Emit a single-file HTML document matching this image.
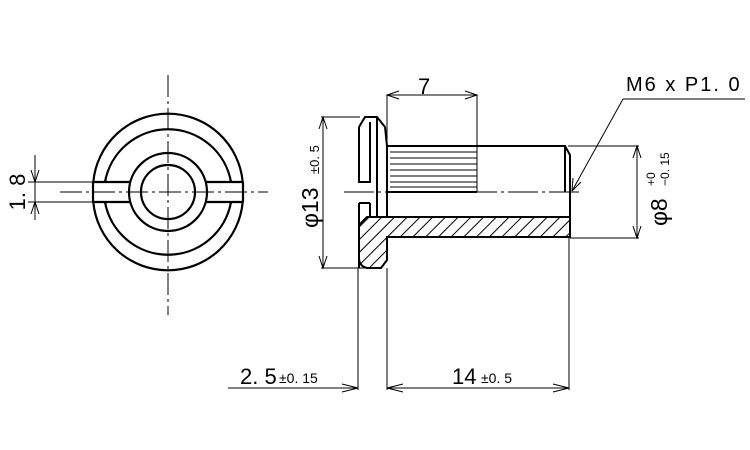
<!DOCTYPE html>
<html><head><meta charset="utf-8"><style>
html,body{margin:0;padding:0;background:#fff;}
svg{display:block;}
text{font-family:"Liberation Sans","Noto Sans CJK JP",sans-serif;fill:#000;}
</style></head><body>
<svg width="750" height="450" viewBox="0 0 750 450" xmlns="http://www.w3.org/2000/svg">
<defs>
<pattern id="h" patternUnits="userSpaceOnUse" width="9" height="9" patternTransform="rotate(45)">
<rect width="9" height="9" fill="#fff"/><line x1="0" y1="0" x2="0" y2="9" stroke="#000" stroke-width="2"/>
</pattern>
</defs>
<g fill="none" stroke="#000">
<g stroke-width="2.2">
<path d="M 93.3 182 A 75 75 0 0 1 242.7 182"/>
<path d="M 93.3 202 A 75 75 0 0 0 242.7 202"/>
<path d="M 105 182 A 64 64 0 0 1 231 182"/>
<path d="M 105 202 A 64 64 0 0 0 231 202"/>
<circle cx="168" cy="192" r="39"/>
<circle cx="168" cy="192" r="27"/>
<line x1="93" y1="182" x2="131" y2="182"/><line x1="93" y1="202" x2="131" y2="202"/>
<line x1="205" y1="182" x2="243" y2="182"/><line x1="205" y1="202" x2="243" y2="202"/>
<line x1="93" y1="182" x2="93" y2="202"/><line x1="243" y1="182" x2="243" y2="202"/>
</g>
<g stroke-width="1">
<line x1="168" y1="75" x2="168" y2="315" stroke-dasharray="22,4,3,4"/>
<line x1="60" y1="192" x2="268" y2="192" stroke-dasharray="22,4,3,4"/>
<line x1="28" y1="182" x2="93" y2="182"/><line x1="28" y1="202" x2="93" y2="202"/>
<line x1="35" y1="155" x2="35" y2="220"/>
<path d="M31 170 L35 182 L39 170 M31 214 L35 202 L39 214"/>
</g>
<g stroke-width="2">
<path d="M359 268 L359 225 L367 217 L570 217 L570 237 L387 237 L387 260 L381 268 L367 268 Q359 266 359 258 Z" fill="url(#h)"/>
<path d="M359 127 L365 117 L377 117 L385 127 L387 146 L387 217"/>
<path d="M359 127 L359 182 L370 182 L370 122"/>
<line x1="377" y1="117" x2="377" y2="217"/>
<line x1="370" y1="203" x2="370" y2="217"/>
<line x1="359" y1="203" x2="370" y2="203"/>
<line x1="359" y1="203" x2="359" y2="225"/>
<path d="M387 146 L565 146 L570 155 L570 217"/>
<line x1="565" y1="146" x2="565" y2="192"/>
<line x1="387" y1="192" x2="477" y2="192"/>
</g>
<g stroke-width="1">
<line x1="390" y1="152" x2="477" y2="152"/><line x1="390" y1="158" x2="477" y2="158"/>
<line x1="390" y1="164" x2="477" y2="164"/><line x1="390" y1="170" x2="477" y2="170"/>
<line x1="390" y1="176" x2="477" y2="176"/><line x1="390" y1="182" x2="477" y2="182"/>
<line x1="390" y1="187" x2="477" y2="187"/>
<line x1="477" y1="95" x2="477" y2="192"/>
<line x1="387" y1="95" x2="387" y2="146"/>
<line x1="344" y1="192" x2="582" y2="192" stroke-dasharray="30,4,3,4"/>
<line x1="387" y1="95" x2="477" y2="95"/>
<path d="M399 91 L387 95 L399 99 M465 91 L477 95 L465 99"/>
<line x1="323" y1="117" x2="323" y2="268"/>
<line x1="321" y1="117" x2="360" y2="117"/><line x1="321" y1="268" x2="375" y2="268"/>
<path d="M319 129 L323 117 L327 129 M319 256 L323 268 L327 256"/>
<line x1="568" y1="146" x2="639" y2="146"/><line x1="570" y1="238" x2="639" y2="238"/>
<line x1="637" y1="146" x2="637" y2="238"/>
<path d="M633 158 L637 146 L641 158 M633 226 L637 238 L641 226"/>
<line x1="623" y1="99" x2="745" y2="99"/>
<line x1="623" y1="99" x2="572" y2="191"/>
<path d="M572 191 L573 178 M572 191 L581 182"/>
<line x1="358" y1="268" x2="358" y2="390"/>
<line x1="387" y1="268" x2="387" y2="390"/>
<line x1="569" y1="238" x2="569" y2="390"/>
<line x1="228" y1="388" x2="358" y2="388"/>
<line x1="387" y1="388" x2="569" y2="388"/>
<path d="M342 384 L358 388 L342 392 M403 384 L387 388 L403 392 M553 384 L569 388 L553 392"/>
</g>
</g>
<text x="418" y="94" font-size="22">7</text>
<text x="626" y="91" font-size="20" letter-spacing="2">M6 x P1. 0</text>
<text x="240" y="384" font-size="22">2. 5</text>
<text x="279" y="383" font-size="14">±0. 15</text>
<text x="452" y="384" font-size="22">14</text>
<text x="481" y="383" font-size="14">±0. 5</text>
<text transform="translate(25,192) rotate(-90)" font-size="22" text-anchor="middle">1. 8</text>
<text transform="translate(318,228) rotate(-90)" font-size="23">φ13</text>
<text transform="translate(319,174) rotate(-90)" font-size="13">±0. 5</text>
<text transform="translate(667,226) rotate(-90)" font-size="23">φ8</text>
<text transform="translate(655,186) rotate(-90)" font-size="12">+0</text>
<text transform="translate(669,186) rotate(-90)" font-size="12">−0. 15</text>
</svg>
</body></html>
